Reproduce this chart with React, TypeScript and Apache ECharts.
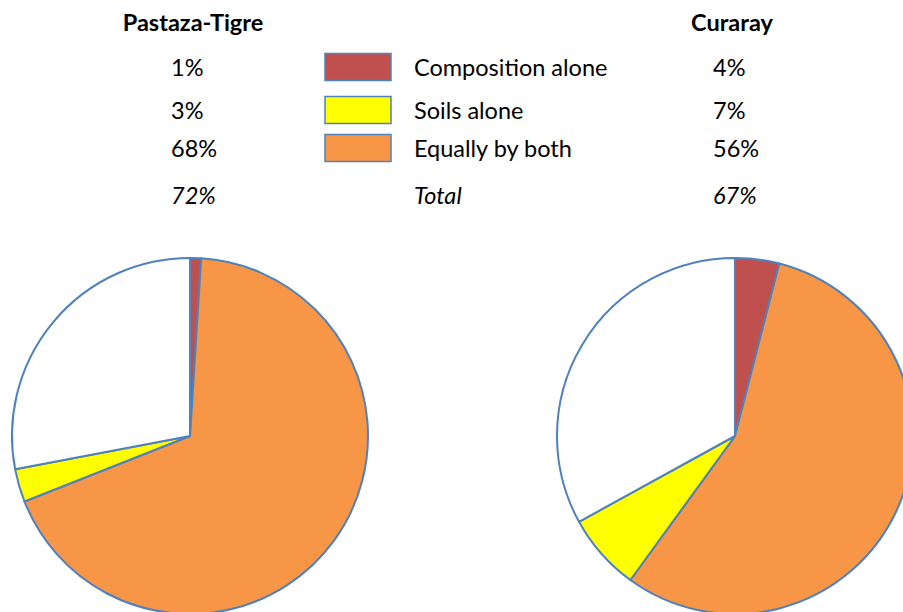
import React, { useEffect, useRef } from "react";
import * as echarts from "echarts";

const categories = ["Composition alone", "Soils alone", "Equally by both"];
const totalLabel = "Total";
const sites = ["Pastaza-Tigre", "Curaray"];
const pastazaValues = [1, 3, 68];
const curarayValues = [4, 7, 56];
const totals = [72, 67];
const colors = ["#C0504D", "#FFFF00", "#F79646"];
const border = "#4F81BD";

const FONT = "Lato";
const FS = 23.5;

function pieData(values: number[], total: number) {
  // clockwise from 12 o'clock: composition, both, soils, unexplained
  return [
    { name: categories[0], value: values[0], itemStyle: { color: colors[0] } },
    { name: categories[2], value: values[2], itemStyle: { color: colors[2] } },
    { name: categories[1], value: values[1], itemStyle: { color: colors[1] } },
    { name: "Unexplained", value: 100 - total, itemStyle: { color: "#FFFFFF" } },
  ];
}

export default function App() {
  const ref = useRef<HTMLDivElement>(null);
  useEffect(() => {
    document.body.style.margin = "0";
    const chart = echarts.init(ref.current!, undefined, { renderer: "svg" });
    const rowY = [67, 110, 148];
    const totalY = 195;
    const graphics: any[] = [];
    const txt = (x: number, y: number, text: string, extra: any = {}) => ({
      type: "text",
      x,
      y,
      style: {
        text,
        fill: "#000",
        font: `${extra.fontStyle || "normal"} ${extra.fontWeight || "normal"} ${extra.size || FS}px ${FONT}`,
        textAlign: extra.align || "left",
        textVerticalAlign: "middle",
      },
    });
    graphics.push(txt(193, 22, sites[0], { fontWeight: "bold", align: "center", size: 23.5 }));
    graphics.push(txt(732, 22, sites[1], { fontWeight: "bold", align: "center", size: 23.5 }));
    const cols = [
      { x: 171, vals: pastazaValues, total: totals[0] },
      { x: 713, vals: curarayValues, total: totals[1] },
    ];
    cols.forEach((c) => {
      c.vals.forEach((v, i) => graphics.push(txt(c.x, rowY[i], `${v}%`)));
      graphics.push(txt(c.x, totalY, `${c.total}%`, { fontStyle: "italic" }));
    });
    categories.forEach((cat, i) => {
      graphics.push({
        type: "rect",
        shape: { x: 325, y: rowY[i] - 13.5, width: 66, height: 27 },
        style: { fill: colors[i], stroke: border, lineWidth: 1.5 },
      });
      graphics.push(txt(414, rowY[i], cat));
    });
    graphics.push(txt(414, totalY, totalLabel, { fontStyle: "italic" }));

    const mkPie = (values: number[], total: number, cx: number) => ({
      type: "pie",
      center: [cx, 436],
      radius: 178,
      startAngle: 90,
      clockwise: true,
      silent: true,
      label: { show: false },
      labelLine: { show: false },
      itemStyle: { borderColor: border, borderWidth: 2 },
      emphasis: { disabled: true },
      data: pieData(values, total),
    });

    chart.setOption({
      animation: false,
      backgroundColor: "#fff",
      graphic: graphics,
      series: [mkPie(pastazaValues, totals[0], 190), mkPie(curarayValues, totals[1], 735)],
    });
    return () => chart.dispose();
  }, []);
  return <div ref={ref} style={{ width: 903, height: 612 }} />;
}
